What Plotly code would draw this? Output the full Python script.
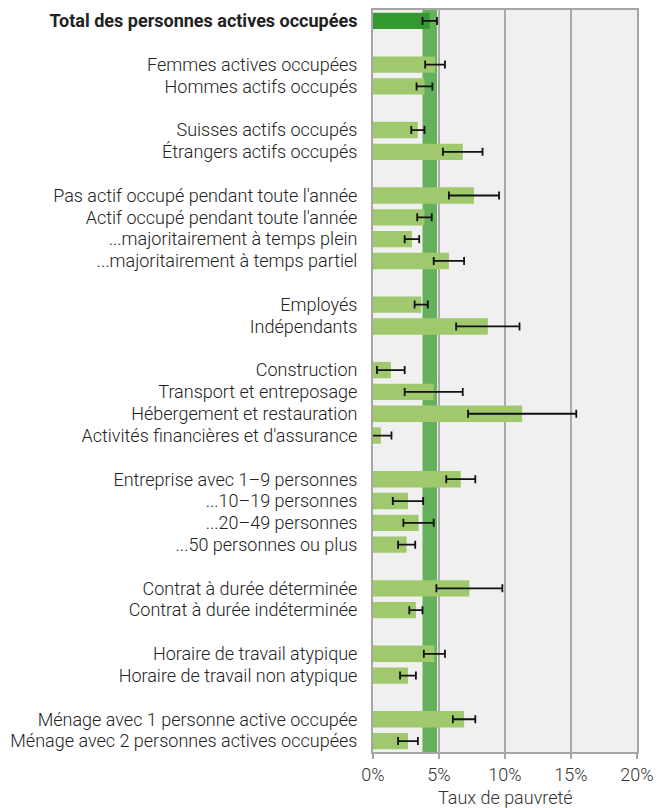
# -*- coding:utf-8 -*-
import plotly.graph_objects as go

# groups of categories (an empty slot is left between groups)
groups = [
    ["Total des personnes actives occupées"],
    ["Femmes actives occupées", "Hommes actifs occupés"],
    ["Suisses actifs occupés", "Étrangers actifs occupés"],
    ["Pas actif occupé pendant toute l'année", "Actif occupé pendant toute l'année",
     "...majoritairement à temps plein", "...majoritairement à temps partiel"],
    ["Employés", "Indépendants"],
    ["Construction", "Transport et entreposage", "Hébergement et restauration",
     "Activités financières et d'assurance"],
    ["Entreprise avec 1–9 personnes", "...10–19 personnes", "...20–49 personnes",
     "...50 personnes ou plus"],
    ["Contrat à durée déterminée", "Contrat à durée indéterminée"],
    ["Horaire de travail atypique", "Horaire de travail non atypique"],
    ["Ménage avec 1 personne active occupée", "Ménage avec 2 personnes actives occupées"],
]

taux = [4.3,
        4.7, 3.9,
        3.4, 6.8,
        7.65, 3.9, 2.95, 5.75,
        3.65, 8.7,
        1.35, 4.6, 11.3, 0.6,
        6.65, 2.65, 3.45, 2.55,
        7.3, 3.25,
        4.65, 2.65,
        6.9, 2.65]

marge = [0.55,
         0.75, 0.6,
         0.5, 1.5,
         1.9, 0.55, 0.55, 1.15,
         0.5, 2.4,
         1.05, 2.2, 4.1, 0.8,
         1.1, 1.15, 1.15, 0.65,
         2.5, 0.5,
         0.8, 0.6,
         0.85, 0.75]

xticks = [0, 5, 10, 15, 20]

labels = []
ypos = []
slot = 0
for g in groups:
    for name in g:
        labels.append(name)
        ypos.append(slot)
        slot += 1
    slot += 1
last = ypos[-1]

ticktext = ["<b>" + labels[0] + "</b>"] + labels[1:]
colors = ["#339a2f"] + ["#a0c96e"] * (len(labels) - 1)

fig = go.Figure()
fig.add_trace(go.Bar(
    x=taux, y=ypos, orientation="h", width=0.75,
    marker=dict(color=colors, line=dict(width=0)),
    error_x=dict(type="data", array=marge, color="#111111", thickness=1.8, width=4),
    showlegend=False,
))

# band = confidence interval of the total
fig.add_shape(type="rect", xref="x", yref="paper",
              x0=taux[0] - marge[0], x1=taux[0] + marge[0], y0=0, y1=1,
              fillcolor="#64b05b", line=dict(width=0), layer="between")

fig.add_annotation(text="Taux de pauvreté", xref="paper", yref="paper",
                   x=0.5, y=0, yanchor="top", yshift=-33, showarrow=False,
                   font=dict(size=18))

fig.update_layout(
    width=661, height=800,
    margin=dict(l=365, r=32, t=2, b=56),
    paper_bgcolor="white", plot_bgcolor="#f0f0f0",
    font=dict(family="Roboto", size=18, color="#333333", weight=300),
    bargap=0.25,
)
fig.update_xaxes(
    range=[0, 20], tickvals=xticks, ticktext=[f"{t}%" for t in xticks],
    showgrid=True, gridcolor="#aaaaaa", gridwidth=1.5,
    showline=True, linecolor="#a6a6a6", linewidth=2, mirror=True,
    ticks="outside", ticklen=5, tickcolor="#a6a6a6", tickwidth=1.5,
    zeroline=False, automargin=False,
)
fig.update_yaxes(
    range=[last + 0.5, -0.5], tickvals=ypos, ticktext=ticktext,
    showgrid=False, zeroline=False, automargin=False,
    showline=True, linecolor="#a6a6a6", linewidth=2, mirror=True,
    ticks="", ticklabelstandoff=10,
    tickfont=dict(color="#222222"),
)

fig.write_html("out.html")
